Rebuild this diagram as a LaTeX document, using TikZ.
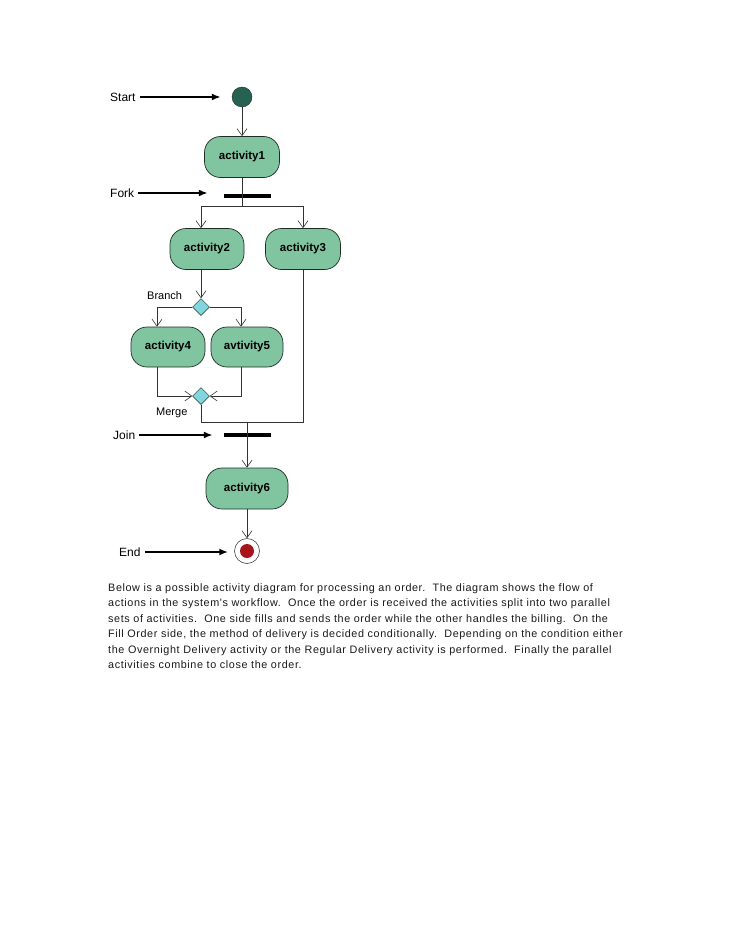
\documentclass[tikz,border=0pt]{standalone}
\usepackage{fontspec}
\setmainfont{Liberation Sans}
\newfontfamily\spacedsans[LetterSpace=5.6]{Liberation Sans}
\usepackage{tikz}
\usetikzlibrary{arrows.meta, shapes.geometric}

\definecolor{actgreen}{RGB}{128,196,160}
\definecolor{actline}{RGB}{28,46,36}
\definecolor{startgreen}{RGB}{38,98,82}
\definecolor{endred}{RGB}{168,20,28}
\definecolor{decicyan}{RGB}{128,214,220}

\tikzset{
  activity/.style={draw=actline, line width=0.7pt, fill=actgreen, rounded corners=16pt,
    minimum height=41pt, inner sep=0pt, font=\fontsize{11.5}{13}\selectfont\bfseries},
  decision/.style={diamond, draw=actline, line width=0.5pt, fill=decicyan,
    minimum width=17pt, minimum height=17pt, inner sep=0pt},
  bar/.style={fill=black, minimum width=47pt, minimum height=4pt, inner sep=0pt},
  flow/.style={draw=black!80, line width=0.6pt, -{Straight Barb[length=7pt,width=10pt]}},
  conn/.style={draw=black!80, line width=0.6pt},
  pointer/.style={line width=1.8pt, shorten <=3pt, -{Latex[length=9pt,width=7pt]}},
  tag/.style={anchor=west, inner sep=1pt, font=\fontsize{12}{14}\selectfont}
}

\begin{document}
\begin{tikzpicture}[x=1pt, y=-1pt]
\useasboundingbox (0,0) rectangle (728,942);
%
\node(start) at (242,97) [circle, draw=actline, fill=startgreen, minimum size=20pt, inner sep=0pt] {};
\node(startlbl) at (109,97) [tag] {Start};
\draw[pointer, shorten >=11pt](startlbl) -- (start) {};
%
\node(a1) at (242,157) [activity, minimum width=75pt] {activity1};
\draw[flow](start) -- (a1) {};
%
\node(fork) at (247.5,196) [bar] {};
\node(forklbl) at (109,193) [tag] {Fork};
\draw[pointer, shorten >=16pt](forklbl) -- (forklbl -| fork.west) {};
\coordinate(fk) at (242,206);
\draw[conn](a1) -- (fk) {};
%
\node(a2) at (207,249) [activity, minimum width=74pt] {activity2};
\node(a3) at (303,249) [activity, minimum width=75pt] {activity3};
\node(br) at (201,307) [decision] {};
\draw[flow](fk) -| (a2.north -| br) {};
\draw[flow](fk) -| (a3) {};
\draw[flow](a2.south -| br) -- (br) {};
\node(brlbl) at (146,296) [tag, font=\fontsize{11}{13}\selectfont] {Branch};
%
\node(a4) at (168,347) [activity, minimum width=74pt, minimum height=40pt] {activity4};
\node(a5) at (247,347) [activity, minimum width=72pt, minimum height=40pt] {avtivity5};
\draw[flow](br.west) -| ([xshift=-11pt]a4.north) {};
\draw[flow](br.east) -| ([xshift=-6pt]a5.north) {};
%
\node(mg) at (201,396) [decision] {};
\node(mglbl) at (155,413) [tag, font=\fontsize{11}{13}\selectfont] {Merge};
\draw[flow]([xshift=-11pt]a4.south) |- (mg.west) {};
\draw[flow]([xshift=-6pt]a5.south) |- (mg.east) {};
%
\coordinate(jt) at (247,422);
\draw[conn](mg.south) |- (jt) {};
\draw[conn](a3.south) |- (jt) {};
\node(join) at (247.5,435) [bar] {};
\node(joinlbl) at (112,435) [tag] {Join};
\draw[pointer, shorten >=11pt](joinlbl) -- (joinlbl -| join.west) {};
%
\node(a6) at (247,488.5) [activity, minimum width=82pt] {activity6};
\draw[flow](jt) -- (a6) {};
%
\node(endo) at (247,551) [circle, draw=actline, line width=0.5pt, fill=white, minimum size=25pt, inner sep=0pt] {};
\node(endi) at (247,551) [circle, fill=endred, minimum size=14pt, inner sep=0pt] {};
\draw[flow](a6) -- (endo) {};
\node(endlbl) at (118,552) [tag] {End};
\draw[pointer, shorten >=6pt](endlbl) -- (endlbl -| endo.west) {};
%
\node(desc) at (108,583.5) [anchor=north west, inner sep=0pt, align=left, text=black!90,
  font=\spacedsans\fontsize{10.8}{15.4}\selectfont] {Below is a possible activity diagram for processing an order.\ \ The diagram shows the flow of\\
actions in the system's workflow.\ \ Once the order is received the activities split into two parallel\\
sets of activities.\ \ One side fills and sends the order while the other handles the billing.\ \ On the\\
Fill Order side, the method of delivery is decided conditionally.\ \ Depending on the condition either\\
the Overnight Delivery activity or the Regular Delivery activity is performed.\ \ Finally the parallel\\
activities combine to close the order.};
\end{tikzpicture}
\end{document}
